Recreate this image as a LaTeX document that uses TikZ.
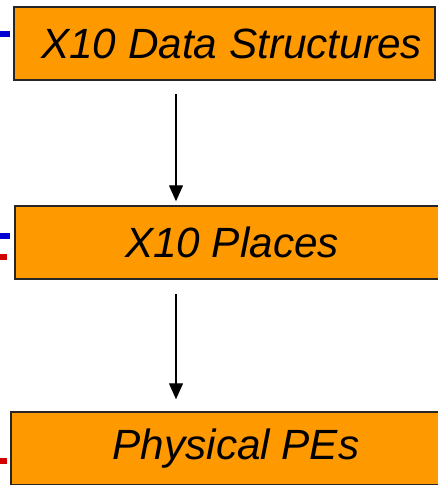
\documentclass[tikz,border=0pt]{standalone}
\usepackage{fontspec}
\setmainfont{Liberation Sans}
\usepackage{tikz}
\usetikzlibrary{arrows.meta}

\definecolor{boxorange}{RGB}{255,153,0}
\definecolor{linkblue}{RGB}{0,0,210}
\definecolor{linkred}{RGB}{210,0,0}

\tikzset{
  layer/.style={draw=black!85, line width=1.5pt, fill=boxorange, inner sep=0pt,
    minimum height=73pt, font=\fontsize{42.3}{50}\selectfont\itshape},
  flow/.style={line width=1.3pt, -{Triangle[width=14pt,length=16pt]}},
  stub/.style={line width=6pt}
}

\begin{document}
\begin{tikzpicture}[x=1pt, y=-1pt]
                \useasboundingbox (0,0) rectangle (437,485);

                % Layers
                \node[layer, minimum width=421pt] (datastr) at (224.5, 43.5) {\hspace*{14pt}X10 Data Structures};
                \node[layer, minimum width=434pt] (places) at (232, 242.5) {X10 Places};
                \node[layer, minimum width=450pt] (pes) at (236, 448.5) {Physical PEs};

                % Mapping arrows
                \coordinate (axis) at (176, 0);
                \draw[flow, shorten <=13pt, shorten >=4pt] (datastr.south -| axis) -- (places.north -| axis);
                \draw[flow, shorten <=14pt, shorten >=12pt] (places.south -| axis) -- (pes.north -| axis);

                % Links coming in from the left
                \coordinate (b1) at (-4, 33.5);
                \coordinate (b2) at (-4, 236);
                \coordinate (r2) at (-4, 257);
                \coordinate (r3) at (-4, 460.5);
                \draw[stub, linkblue] (b1) -- (10, 33.5);
                \draw[stub, linkblue] (b2) -- (10, 236);
                \draw[stub, linkred] (r2) -- (7, 257);
                \draw[stub, linkred] (r3) -- (7, 460.5);
            \end{tikzpicture}
\end{document}
